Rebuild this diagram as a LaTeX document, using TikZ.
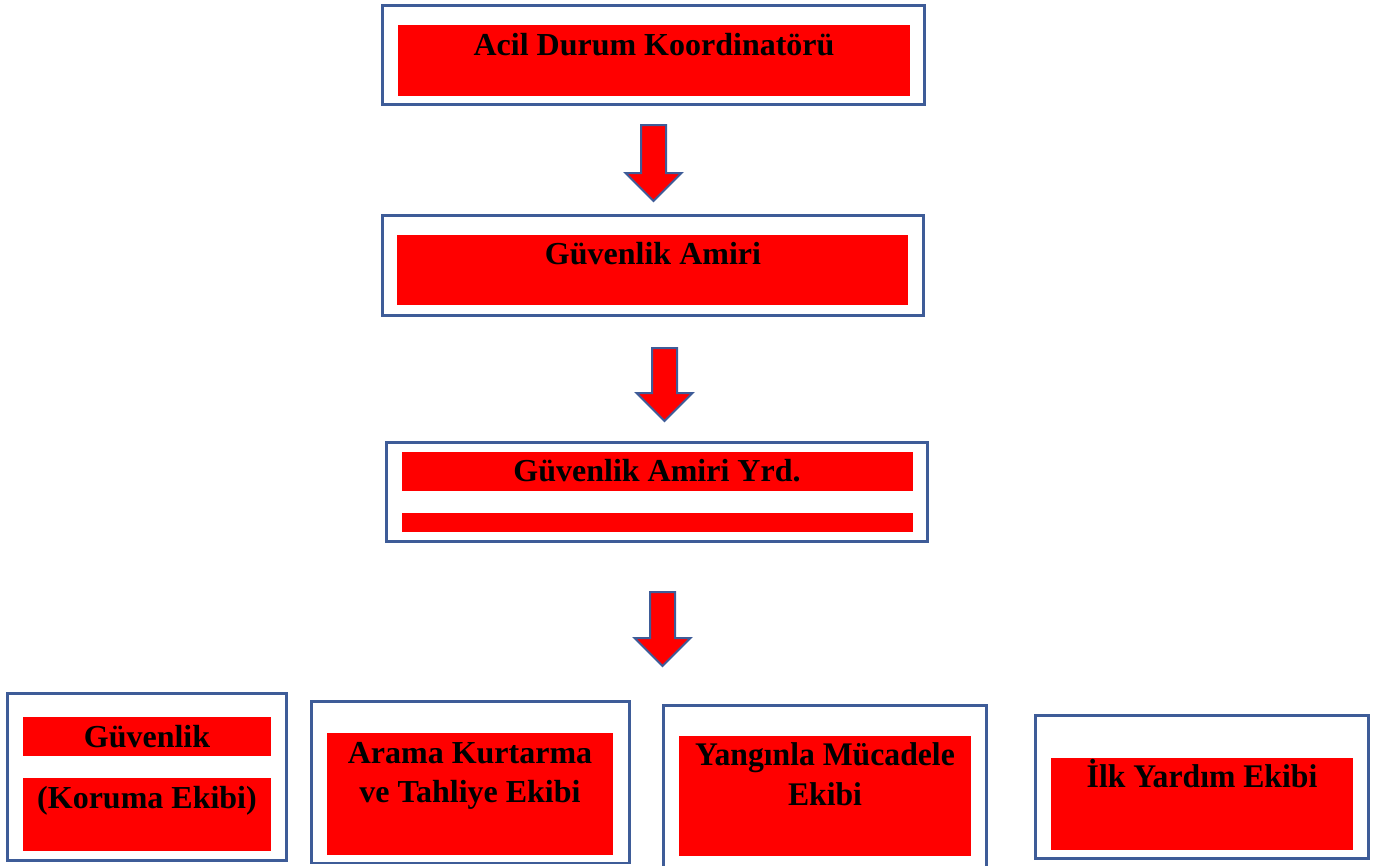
\documentclass[tikz,border=0pt]{standalone}
\usepackage{fontspec}
\setmainfont{Liberation Serif}
\usetikzlibrary{calc}
\definecolor{bordercol}{RGB}{62,92,152}
\definecolor{boxred}{RGB}{255,0,0}
\tikzset{
  outerbox/.style={draw=bordercol, line width=2.6pt, fill=white, inner sep=0pt},
  redbox/.style={fill=boxred, draw=none, inner sep=0pt},
  lbl/.style={font=\bfseries\fontsize{32}{38}\selectfont, inner sep=0pt, anchor=base, text=black},
  lblc/.style={font=\bfseries\fontsize{33}{38}\selectfont, inner sep=0pt, anchor=base, text=black, xscale=0.96},
  blockarrow/.style={draw=bordercol, line width=2pt, fill=boxred, line join=miter}
}
% box: name, x1, y1, x2, y2, style
\newcommand\mkbox[6]{%
  \node[#6, minimum width={(#4-#2)*1pt}, minimum height={(#5-#3)*1pt}] (#1) at ({(#2+#4)/2},{(#3+#5)/2}) {};}
% block arrow: name (coordinate at tip), center x, top y, tip y
\newcommand\mkarrow[4]{%
  \coordinate (#1) at (#2,#4);
  \draw[blockarrow] ($(#1)+(-12.5,#3-#4)$) -- ($(#1)+(12.5,#3-#4)$) -- ($(#1)+(12.5,-28)$)
     -- ($(#1)+(28,-28)$) -- (#1) -- ($(#1)+(-28,-28)$) -- ($(#1)+(-12.5,-28)$) -- cycle;}
\begin{document}
\begin{tikzpicture}[x=1pt,y=-1pt]
\useasboundingbox[fill=white] (0,0) rectangle (1386,865);
% level 1
\mkbox{o1}{382.5}{5.5}{924.5}{104.5}{outerbox}
\mkbox{r1}{398}{25}{910}{96}{redbox}
\node[lbl] (t1) at (654,55) {Acil Durum Koordinatörü};
\mkarrow{a1}{653.5}{125}{201}
% level 2
\mkbox{o2}{382.5}{215.5}{923.5}{315.5}{outerbox}
\mkbox{r2}{397}{235}{908}{305}{redbox}
\node[lbl] (t2) at (653,264) {Güvenlik Amiri};
\mkarrow{a2}{664.5}{348}{421}
% level 3
\mkbox{o3}{386.5}{442.5}{927.5}{541.5}{outerbox}
\mkbox{r3a}{402}{452}{913}{491}{redbox}
\mkbox{r3b}{402}{513}{913}{532}{redbox}
\node[lbl] (t3) at (657,481) {Güvenlik Amiri Yrd.};
\mkarrow{a3}{662.5}{592}{666}
% level 4
\mkbox{o4}{7.5}{693.5}{286.5}{860.5}{outerbox}
\mkbox{r4a}{23}{717}{271}{756}{redbox}
\mkbox{r4b}{23}{778}{271}{851}{redbox}
\node[lbl] (t4a) at (147,747) {Güvenlik};
\node[lbl] (t4b) at (147,808) {(Koruma Ekibi)};
\mkbox{o5}{311.5}{701.5}{629.5}{863}{outerbox}
\mkbox{r5}{327}{733}{613}{855}{redbox}
\node[lbl] (t5a) at (470,763) {Arama Kurtarma};
\node[lbl] (t5b) at (470,802) {ve Tahliye Ekibi};
\mkbox{o6}{663.5}{705.5}{986.5}{869}{outerbox}
\mkbox{r6}{679}{736}{971}{856}{redbox}
\node[lblc] (t6a) at (825,765) {Yangınla Mücadele};
\node[lblc] (t6b) at (825,805) {Ekibi};
\mkbox{o7}{1035.5}{715.5}{1368.5}{858.5}{outerbox}
\mkbox{r7}{1051}{758}{1353}{850}{redbox}
\node[lblc] (t7) at (1202,787) {İlk Yardım Ekibi};
\end{tikzpicture}
\end{document}
